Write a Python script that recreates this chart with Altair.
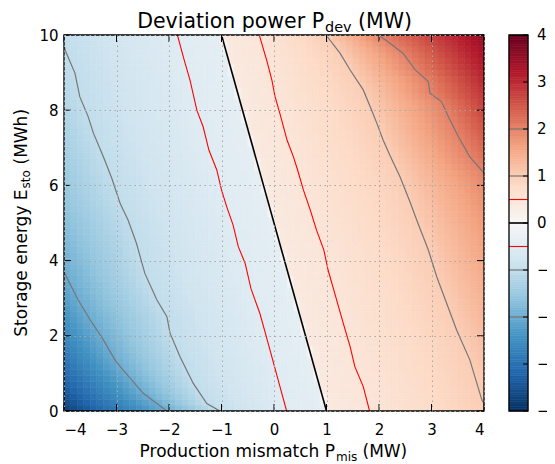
import numpy as np
import pandas as pd
import altair as alt

FONT = "DejaVu Sans"

# ---- axis ticks / colorbar labels ----
x_ticks = [-4, -3, -2, -1, 0, 1, 2, 3, 4]
y_ticks = [0, 2, 4, 6, 8, 10]
cbar_ticks = [4, 3, 2, 1, 0, -1, -2, -3, -4]
cbar_labels = ["4", "3", "2", "1", "0", "\u22121", "\u22122", "\u22123", "\u22124"]

# ---- contour lines: P_mis (MW) and E_sto (MWh) ----
c_m2_p = [-4.0, -3.73, -3.50, -3.25, -3.03, -2.93, -2.49, -2.04]
c_m2_e = [3.70, 2.95, 2.42, 1.89, 1.36, 1.18, 0.47, 0.0]

c_m1_p = [-4.0, -3.98, -3.79, -3.70, -3.54, -3.44, -3.25, -3.09, -2.93, -2.78, -2.62,
          -2.46, -2.23, -2.04, -1.98, -1.79, -1.54, -1.28, -1.03]
c_m1_e = [9.75, 9.6, 8.98, 8.36, 7.83, 7.39, 6.76, 6.19, 5.52, 5.08, 4.46,
          3.66, 2.95, 2.51, 2.07, 1.44, 0.74, 0.2, 0.0]

c_m05_p = [-1.84, -1.71, -1.60, -1.47, -1.35, -1.24, -1.09, -1.00, -0.90, -0.78, -0.68,
           -0.55, -0.44, -0.27, -0.15, 0.08, 0.24]
c_m05_e = [10.0, 9.33, 8.8, 8.0, 7.56, 6.94, 6.41, 5.88, 5.43, 4.95, 4.37,
           3.93, 3.26, 2.6, 2.0, 0.82, 0.0]

c_0_p = [-1.0, 1.0]
c_0_e = [10.0, 0.0]

c_p05_p = [-0.28, -0.14, -0.04, 0.02, 0.11, 0.25, 0.37, 0.45, 0.56, 0.69, 0.81, 0.95,
           1.03, 1.13, 1.32, 1.45, 1.54, 1.70, 1.82]
c_p05_e = [10.0, 9.33, 8.8, 8.36, 7.92, 7.2, 6.76, 6.41, 5.88, 5.35, 4.81, 4.28,
           3.75, 3.26, 2.33, 1.71, 1.18, 0.65, 0.0]

c_p1_p = [0.99, 1.26, 1.45, 1.70, 1.86, 1.96, 2.08, 2.22, 2.40, 2.58, 2.74, 2.94,
          3.10, 3.29, 3.48, 3.73, 3.96, 4.0]
c_p1_e = [10.0, 9.51, 9.07, 8.54, 8.0, 7.65, 7.2, 6.76, 6.23, 5.6, 5.0, 4.28,
          3.57, 2.86, 2.15, 1.36, 0.29, 0.2]

c_p2_p = [1.99, 2.21, 2.46, 2.69, 2.94, 2.97, 3.19, 3.32, 3.51, 3.73, 4.0]
c_p2_e = [10.0, 9.78, 9.51, 9.07, 8.76, 8.45, 8.23, 7.83, 7.3, 6.76, 6.33]

# values read along the left (P=-4) and right (P=4) edges of the map
left_edge_e = [0, 0.5, 1, 2, 3, 3.7, 5, 6, 7, 8, 9, 9.75, 10]
left_edge_v = [-3.8, -3.4, -3.1, -2.6, -2.25, -2.0, -1.7, -1.5, -1.35, -1.2, -1.08, -1.0, -0.97]
right_edge_e = [0, 0.2, 1, 2, 3, 4, 5, 6, 6.33, 7, 8, 9, 10]
right_edge_v = [0.98, 1.0, 1.1, 1.25, 1.4, 1.55, 1.7, 1.9, 2.0, 2.3, 2.7, 3.1, 3.5]
# level just either side of the zero line (flat plateau next to it)
side_of_zero = 0.4

GRAY = "#777777"
contours = [
    (-2.0, c_m2_p, c_m2_e, GRAY, 1.2),
    (-1.0, c_m1_p, c_m1_e, GRAY, 1.2),
    (-0.5, c_m05_p, c_m05_e, "#ff0000", 1.1),
    (0.0, c_0_p, c_0_e, "#000000", 1.6),
    (0.5, c_p05_p, c_p05_e, "#ff0000", 1.1),
    (1.0, c_p1_p, c_p1_e, GRAY, 1.2),
    (2.0, c_p2_p, c_p2_e, GRAY, 1.2),
]

# ---- colour map (RdBu_r) ----
cmap_dom = [-4, -3.2, -2.4, -1.6, -0.8, 0, 0.8, 1.6, 2.4, 3.2, 4]
cmap_col = ["#053061", "#2166ac", "#4393c3", "#92c5de", "#d1e5f0", "#f7f7f7",
            "#fddbc7", "#f4a582", "#d6604d", "#b2182b", "#67001f"]
cscale = alt.Scale(domain=cmap_dom, range=cmap_col, interpolate="rgb")

# ---- build the map cells from the contour readings ----
p_edges = np.linspace(-4, 4, 65)
e_edges = np.linspace(0, 10, 65)
rows = []
for j in range(len(e_edges) - 1):
    e = 0.5 * (e_edges[j] + e_edges[j + 1])
    pts = [(-4.0, float(np.interp(e, left_edge_e, left_edge_v))),
           (4.0, float(np.interp(e, right_edge_e, right_edge_v)))]
    for lvl, ps, es, _, _ in contours:
        order = np.argsort(es)
        ee = np.array(es)[order]
        pp = np.array(ps)[order]
        if e < ee[0] or e > ee[-1]:
            continue
        x = float(np.interp(e, ee, pp))
        if lvl == 0.0:
            pts += [(x - 0.05, -side_of_zero), (x, 0.0), (x + 0.05, side_of_zero)]
        elif -4 < x < 4:
            pts.append((x, lvl))
    pts.sort()
    xs = [a for a, _ in pts]
    vs = [b for _, b in pts]
    for i in range(len(p_edges) - 1):
        pc = 0.5 * (p_edges[i] + p_edges[i + 1])
        rows.append({"p0": p_edges[i], "p1": p_edges[i + 1], "e0": e_edges[j],
                     "e1": e_edges[j + 1], "v": float(np.interp(pc, xs, vs))})
heat_df = pd.DataFrame(rows)

W, H = 420, 376
xs_ = alt.Scale(domain=[-4, 4], nice=False, zero=False)
ys_ = alt.Scale(domain=[0, 10], nice=False, zero=False)
x_axis = alt.Axis(values=x_ticks, title=None, ticks=False, domain=False, labelPadding=11,
                  labelFontSize=15, labelFont=FONT, labelColor="black", grid=True,
                  gridColor="#a8a8a8", gridDash=[1.5, 3.5], gridWidth=1, zindex=1)
y_axis = alt.Axis(values=y_ticks, title=None, ticks=False, domain=False, labelPadding=6,
                  labelFontSize=15, labelFont=FONT, labelColor="black", grid=True,
                  gridColor="#a8a8a8", gridDash=[1.5, 3.5], gridWidth=1, zindex=1)

heat = alt.Chart(heat_df).mark_rect(strokeWidth=0.6).encode(
    x=alt.X("p0:Q", scale=xs_, axis=x_axis), x2="p1",
    y=alt.Y("e0:Q", scale=ys_, axis=y_axis), y2="e1",
    color=alt.Color("v:Q", scale=cscale, legend=None),
    stroke=alt.Stroke("v:Q", scale=cscale, legend=None),
)

layers = [heat]
for lvl, ps, es, col, sw in contours:
    df = pd.DataFrame({"p": ps, "e": es, "k": list(range(len(ps)))})
    layers.append(alt.Chart(df).mark_line(color=col, strokeWidth=sw, clip=True).encode(
        x=alt.X("p:Q", scale=xs_, axis=x_axis),
        y=alt.Y("e:Q", scale=ys_, axis=y_axis),
        order="k:Q"))

xt = pd.DataFrame({"t": x_ticks})
yt = pd.DataFrame({"t": y_ticks})
tick_style = dict(color="black", strokeWidth=1)
layers += [
    alt.Chart(xt).mark_rule(**tick_style).encode(x=alt.X("t:Q", scale=xs_, axis=x_axis),
                                                 y=alt.value(0), y2=alt.value(7)),
    alt.Chart(xt).mark_rule(**tick_style).encode(x=alt.X("t:Q", scale=xs_, axis=x_axis),
                                                 y=alt.value(H - 7), y2=alt.value(H)),
    alt.Chart(yt).mark_rule(**tick_style).encode(y=alt.Y("t:Q", scale=ys_, axis=y_axis),
                                                 x=alt.value(0), x2=alt.value(7)),
    alt.Chart(yt).mark_rule(**tick_style).encode(y=alt.Y("t:Q", scale=ys_, axis=y_axis),
                                                 x=alt.value(W - 7), x2=alt.value(W)),
]
one = pd.DataFrame({"a": [0]})
layers.append(alt.Chart(one).mark_rect(filled=False, stroke="black", strokeWidth=1.3).encode(
    x=alt.value(0), x2=alt.value(W), y=alt.value(0), y2=alt.value(H)))
main = alt.layer(*layers)

# ---- colour bar ----
CB0, CB1 = 445, 464
cb_edges = np.linspace(-4, 4, 161)
cb_df = pd.DataFrame({"c0": cb_edges[:-1], "c1": cb_edges[1:],
                      "cm": 0.5 * (cb_edges[:-1] + cb_edges[1:])})
cbs = alt.Scale(domain=[-4, 4], nice=False, zero=False)
cb_rect = alt.Chart(cb_df).mark_rect(strokeWidth=0.6).encode(
    x=alt.value(CB0), x2=alt.value(CB1),
    y=alt.Y("c0:Q", scale=cbs, axis=None), y2="c1",
    color=alt.Color("cm:Q", scale=cscale, legend=None),
    stroke=alt.Stroke("cm:Q", scale=cscale, legend=None))
cb_layers = [cb_rect]
for lvl, ps, es, col, sw in contours:
    cb_layers.append(alt.Chart(pd.DataFrame({"l": [lvl]})).mark_rule(
        color=col, strokeWidth=sw).encode(
        y=alt.Y("l:Q", scale=cbs, axis=None), x=alt.value(CB0), x2=alt.value(CB1)))
cbt = pd.DataFrame({"t": cbar_ticks, "lab": cbar_labels})
cb_layers.append(alt.Chart(cbt).mark_rule(color="black", strokeWidth=1).encode(
    y=alt.Y("t:Q", scale=cbs, axis=None), x=alt.value(CB1 - 5), x2=alt.value(CB1)))
cb_layers.append(alt.Chart(cbt).mark_text(align="left", baseline="middle", font=FONT,
                                          fontSize=15, color="black").encode(
    y=alt.Y("t:Q", scale=cbs, axis=None), x=alt.value(CB1 + 9), text="lab:N"))
cb_layers.append(alt.Chart(pd.DataFrame({"c0": [-4], "c1": [4]})).mark_rect(
    filled=False, stroke="black", strokeWidth=1.3).encode(
    y=alt.Y("c0:Q", scale=cbs, axis=None), y2="c1", x=alt.value(CB0), x2=alt.value(CB1)))
cbar = alt.layer(*cb_layers)

# ---- titles with subscripts ----
def txt(s, x, y, size, align="left", angle=0):
    kw = dict(text=s, font=FONT, fontSize=size, align=align, baseline="alphabetic",
              color="black")
    if angle:
        kw["angle"] = angle
    return alt.Chart(one).mark_text(**kw).encode(x=alt.value(x), y=alt.value(y))

titles = alt.layer(
    txt("Deviation power P", 260, -7, 20.5, "right"),
    txt("dev", 261, -3, 14.4),
    txt("(MW)", 294, -7, 20.5),
    txt("Production mismatch P", 271, 422, 17, "right"),
    txt("mis", 272, 425.5, 12),
    txt("(MW)", 298.5, 422, 17),
    txt("Storage energy E", -37.5, 154.4, 17, "right", 270),
    txt("sto", -34, 153.4, 12, "left", 270),
    txt("(MWh)", -37.5, 129.5, 17, "left", 270),
)

chart = alt.layer(main, cbar, titles).resolve_scale(y="independent").properties(
    width=W, height=H,
    autosize=alt.AutoSizeParams(type="none"),
    padding={"left": 56, "top": 27, "right": 63, "bottom": 53},
).configure_view(stroke=None)

chart.save("out.html", embed_options={"renderer": "svg", "actions": False})
